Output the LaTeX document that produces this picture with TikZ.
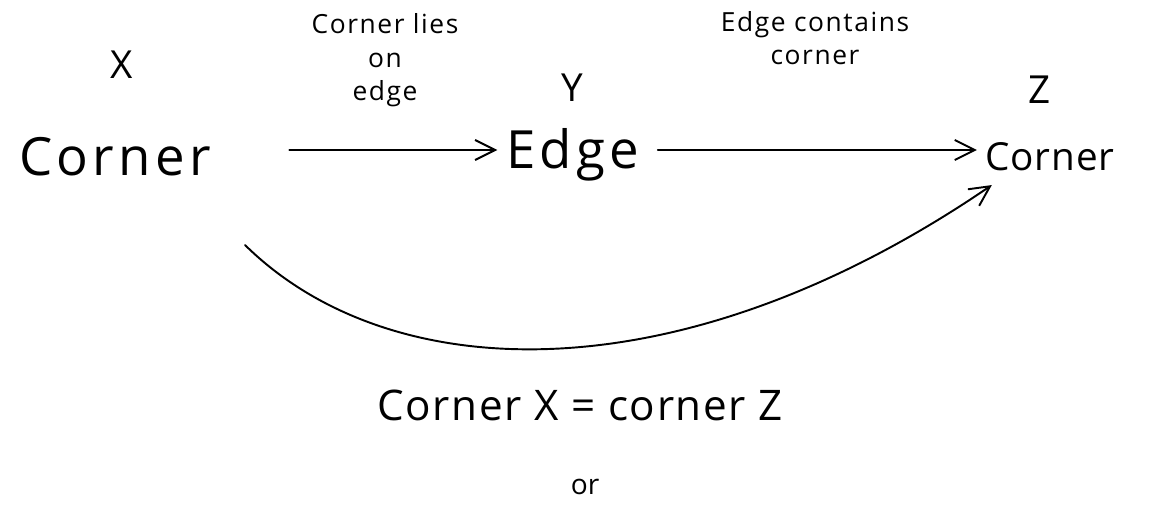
\documentclass[tikz,border=0pt]{standalone}
\usepackage{fontspec}
\setmainfont{Open Sans}
\usetikzlibrary{arrows.meta}

\begin{document}
\begin{tikzpicture}[
    big/.style={font=\fontsize{30}{34}\selectfont\addfontfeature{LetterSpace=8}, inner sep=2pt},
    mid/.style={font=\fontsize{24}{28}\selectfont\addfontfeature{LetterSpace=4}, inner sep=2pt},
    var/.style={font=\fontsize{22}{26}\selectfont, inner sep=1pt},
    rel_label/.style={font=\fontsize{15}{19}\selectfont\addfontfeature{LetterSpace=6}, align=center, inner sep=1pt},
    arr/.style={-{Straight Barb[length=4mm, width=4mm]}, line width=1.1pt, line cap=round}
]
\useasboundingbox (0,0) rectangle (23.08,10.16);

% Knoten
\node[big] (c1) at (2.30,7.02) {Corner};
\node[var] (x) at (2.44,8.86) {X};
\node[big] (e) at (11.45,7.06) {Edge};
\node[var] (y) at (11.44,8.40) {Y};
\node[mid, font=\fontsize{22}{26}\selectfont\addfontfeature{LetterSpace=2}] (c2) at (21.0,7.02) {Corner};
\node[var] (z) at (20.8,8.36) {Z};

% Kantenbeschriftungen
\node[rel_label] (l1) at (7.7,8.95) {Corner lies\\on\\edge};
\node[rel_label] (l2) at (16.3,9.4) {Edge contains\\corner};

% Pfeile
\draw[arr] ([xshift=1.5cm]c1.east |- 0,7.16) -- ([xshift=-0.1cm]e.west |- 0,7.16);
\draw[arr] ([xshift=0.3cm]e.east |- 0,7.16) -- ([xshift=-0.1cm]c2.west |- 0,7.16);
\draw[arr] ([shift={(2.6,-1.76)}]c1.center) .. controls (7.8,2.4) and (13.6,2.2) .. ([xshift=0.2cm,yshift=-0.2cm]c2.south west);

% Unten
\node[mid] (eq) at (11.6,2.06) {Corner X = corner Z};
\node[rel_label, font=\fontsize{16}{18}\selectfont] (or) at (11.7,0.42) {or};

\end{tikzpicture}
\end{document}
